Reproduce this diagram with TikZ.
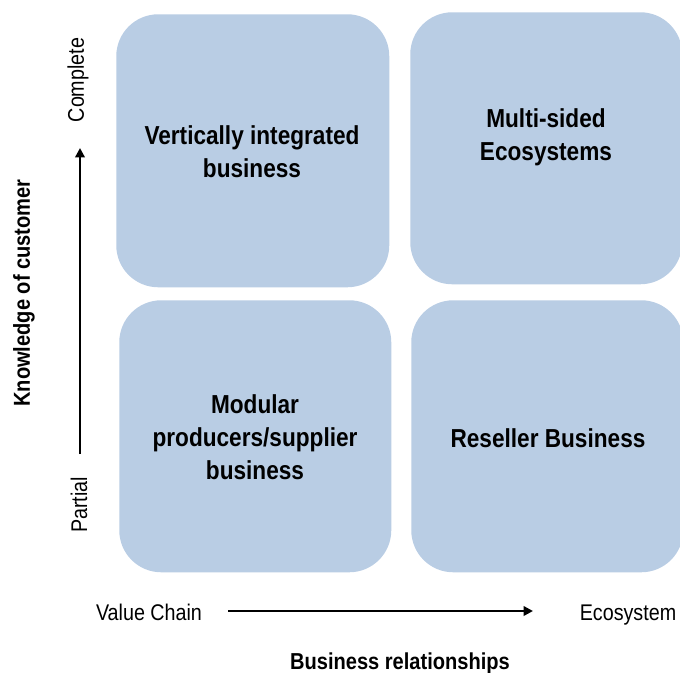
\documentclass[tikz,border=0pt]{standalone}
\usepackage{fontspec}
\setmainfont{Liberation Sans}[FakeStretch=0.87]
\usetikzlibrary{arrows.meta}
\definecolor{boxblue}{RGB}{185,205,228}
\tikzset{
  quad/.style={fill=boxblue, draw=none, rounded corners=31.5pt, anchor=north west, inner sep=0pt},
  boxtext/.style={align=center, font=\bfseries\fontsize{19.5}{24.75}\selectfont, inner sep=0pt},
  axistext/.style={font=\fontsize{17}{20}\selectfont, inner sep=0pt},
  axistitle/.style={font=\bfseries\fontsize{17.3}{20}\selectfont, inner sep=0pt},
  axisarrow/.style={line width=2.1pt, -{Triangle[length=7pt,width=7pt]}}
}
\begin{document}
\begin{tikzpicture}[x=0.75pt,y=-0.75pt]
\useasboundingbox (0,0) rectangle (680,672);
% quadrants
\node[quad, minimum width=204.75pt, minimum height=204.75pt] (tl) at (116,14) {};
\node[quad, minimum width=204pt, minimum height=204pt] (tr) at (410,12) {};
\node[quad, minimum width=204pt, minimum height=204pt] (bl) at (119,300) {};
\node[quad, minimum width=204pt, minimum height=204pt] (br) at (411,300) {};
% quadrant texts
\node[boxtext] (tlt) at (252,151.5) {Vertically integrated\\business};
\node[boxtext] (trt) at (546,137) {Multi-sided\\Ecosystems};
\node[boxtext] (blt) at (255,437.5) {Modular\\producers/supplier\\business};
\node[boxtext] (brt) at (548,438) {Reseller Business};
% vertical axis
\coordinate (vstart) at (80,454);
\coordinate (vend) at (80,148);
\draw[axisarrow] (vstart) -- (vend);
\node[axistext, rotate=90] (complete) at (78,80) {Complete};
\node[axistext, rotate=90] (partial) at (79,505) {Partial};
\node[axistitle, rotate=90] (kc) at (24,293) {Knowledge of customer};
% horizontal axis
\coordinate (hstart) at (228,611);
\coordinate (hend) at (533,611);
\draw[axisarrow] (hstart) -- (hend);
\node[axistext, anchor=base] (vc) at (149,620) {Value Chain};
\node[axistext, anchor=base] (eco) at (628,620) {Ecosystem};
\node[axistitle, anchor=base] (br2) at (400,669) {Business relationships};
\end{tikzpicture}
\end{document}
